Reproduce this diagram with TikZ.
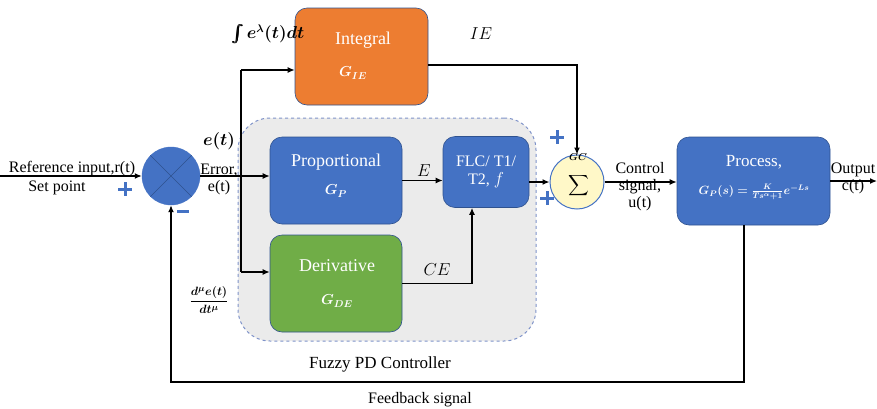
\documentclass[tikz,border=0pt]{standalone}
\usepackage{fontspec}
\setmainfont{Liberation Serif}
\usepackage{amsmath}
\usepackage{bm}
\usetikzlibrary{arrows.meta,positioning}
\definecolor{oblue}{HTML}{4472C4}
\definecolor{dblue}{HTML}{2F528F}
\definecolor{oorange}{HTML}{ED7D31}
\definecolor{ogreen}{HTML}{70AD47}
\definecolor{regfill}{HTML}{EBEBEB}
\definecolor{regdash}{HTML}{7F93C9}
\definecolor{sigfill}{HTML}{FFF8C8}
\tikzset{
  blk/.style={draw=dblue, line width=0.6pt, rounded corners=12pt, inner sep=0pt},
  region/.style={draw=regdash, dashed, line width=1pt, fill=regfill, rounded corners=32pt, inner sep=0pt},
  arr/.style={-{Latex[length=7pt,width=6pt]}, line width=1.3pt},
  ln/.style={line width=1.3pt},
  lbl/.style={font=\fontsize{16}{17}\selectfont, align=center, inner sep=0pt},
  btitle/.style={text=white, font=\fontsize{18}{19}\selectfont, align=center, inner sep=0pt},
  sign/.style={draw=oblue, line width=3pt},
}
\begin{document}
\begin{tikzpicture}[x=1pt,y=-1pt]
\useasboundingbox (0,0) rectangle (877,408);
% region
\node[region, minimum width=298pt, minimum height=223pt] (fpd) at (387,229.5) {};
% blocks
\node[blk, fill=oorange, minimum width=133pt, minimum height=97pt] (int) at (361.5,56.5) {};
\node[blk, fill=oblue, minimum width=132pt, minimum height=87pt] (prop) at (336,180.5) {};
\node[blk, fill=ogreen, minimum width=132pt, minimum height=97pt] (der) at (336,283.5) {};
\node[blk, fill=oblue, minimum width=86pt, minimum height=71pt] (flc) at (486,172) {};
\node[blk, fill=oblue, minimum width=153pt, minimum height=88pt] (proc) at (753.5,181) {};
\node[circle, draw=oblue, fill=oblue, minimum size=58pt, inner sep=0pt] (sum) at (171,176) {};
\draw[dblue, line width=0.6pt] (sum.north west) -- (sum.south east) (sum.north east) -- (sum.south west);
\node[circle, draw=oblue, line width=1pt, fill=sigfill, minimum size=54pt, inner sep=0pt] (sig) at (577,182) {};
% block texts
\node[btitle] (intt) at (363,40) {Integral};
\node[btitle, font=\fontsize{14}{15}\selectfont] (intg) at (353,73) {$\bm{G_{IE}}$};
\node[btitle] (propt) at (336,162) {Proportional};
\node[btitle, font=\fontsize{14}{15}\selectfont] (propg) at (336,191) {$\bm{G_{P}}$};
\node[btitle] (dert) at (337,266) {Derivative};
\node[btitle, font=\fontsize{14}{15}\selectfont] (derg) at (337,301) {$\bm{G_{DE}}$};
\node[btitle, font=\fontsize{16}{18}\selectfont] (flct) at (486,172) {FLC/ T1/\\T2, $f$};
\node[btitle, font=\fontsize{17}{18}\selectfont] (proct) at (754,162) {Process,};
\node[btitle, font=\fontsize{12}{13}\selectfont] (procg) at (754,192) {$\bm{G_P(s)=\frac{K}{Ts^{\alpha}+1}e^{-Ls}}$};
\node[inner sep=0pt, font=\fontsize{14}{14}\selectfont] (sigs) at (579,186) {$\displaystyle\sum$};
\node[inner sep=0pt, font=\fontsize{10}{10}\selectfont] (gc) at (578,157) {$\bm{GC}$};
% connectors
\coordinate (in) at (0,176);
\coordinate (bt) at (241,70);
\coordinate (bb) at (241,272);
\coordinate (out) at (877,181);
\coordinate (fbr) at (744,382);
\coordinate (fbl) at (171,382);
\draw[arr] (in) -- (sum.west);
\draw[arr] (sum.east) -- (sum.east -| prop.west);
\draw[ln] (bt) -- (bb);
\draw[arr] (bt) -- (bt -| int.west);
\draw[arr] (bb) -- (bb -| der.west);
\draw[arr] ([yshift=-8.5pt]int.east) -| (sig.north);
\draw[arr] (prop.east) -- (prop.east -| flc.west);
\draw[arr] (der.east) -| ([xshift=-14pt]flc.south);
\draw[arr] (sig.west -| flc.east) -- (sig.west);
\draw[arr] (sig.east) -- (sig.east -| proc.west);
\draw[arr] (proc.east) -- (out);
\draw[arr] (proc.south -| fbr) -- (fbr) -- (fbl) -- (sum.south);
% signs
\draw[sign] (118,189) -- (132,189) (125,182) -- (125,196);
\draw[sign] (177,211) -- (189,211);
\draw[sign] (550,137) -- (564,137) (557,130) -- (557,144);
\draw[sign] (540,198) -- (554,198) (547,191) -- (547,205);
% labels
\node[lbl] (ref) at (72,169) {Reference input,r(t)};
\node[lbl] (sp) at (57,188) {Set point};
\node[lbl] (err) at (219,179) {Error,\\e(t)};
\node[lbl] (et) at (219,141) {$\bm{e(t)}$};
\node[lbl] (intl) at (268,34) {$\bm{\int e^{\lambda}(t)dt}$};
\node[lbl] (iel) at (481,34) {$IE$};
\node[lbl] (el) at (424,171) {$E$};
\node[lbl] (cel) at (437,270) {$CE$};
\node[lbl, font=\fontsize{13}{14}\selectfont] (dl) at (209,300) {$\bm{\dfrac{d^{\mu}e(t)}{dt^{\mu}}}$};
\node[lbl] (cs) at (640,187) {Control\\signal,\\u(t)};
\node[lbl] (outl) at (853,178) {Output\\c(t)};
\node[lbl, font=\fontsize{17}{18}\selectfont] (fpdl) at (380,364) {Fuzzy PD Controller};
\node[lbl] (fbs) at (420,400) {Feedback signal};
\end{tikzpicture}
\end{document}
